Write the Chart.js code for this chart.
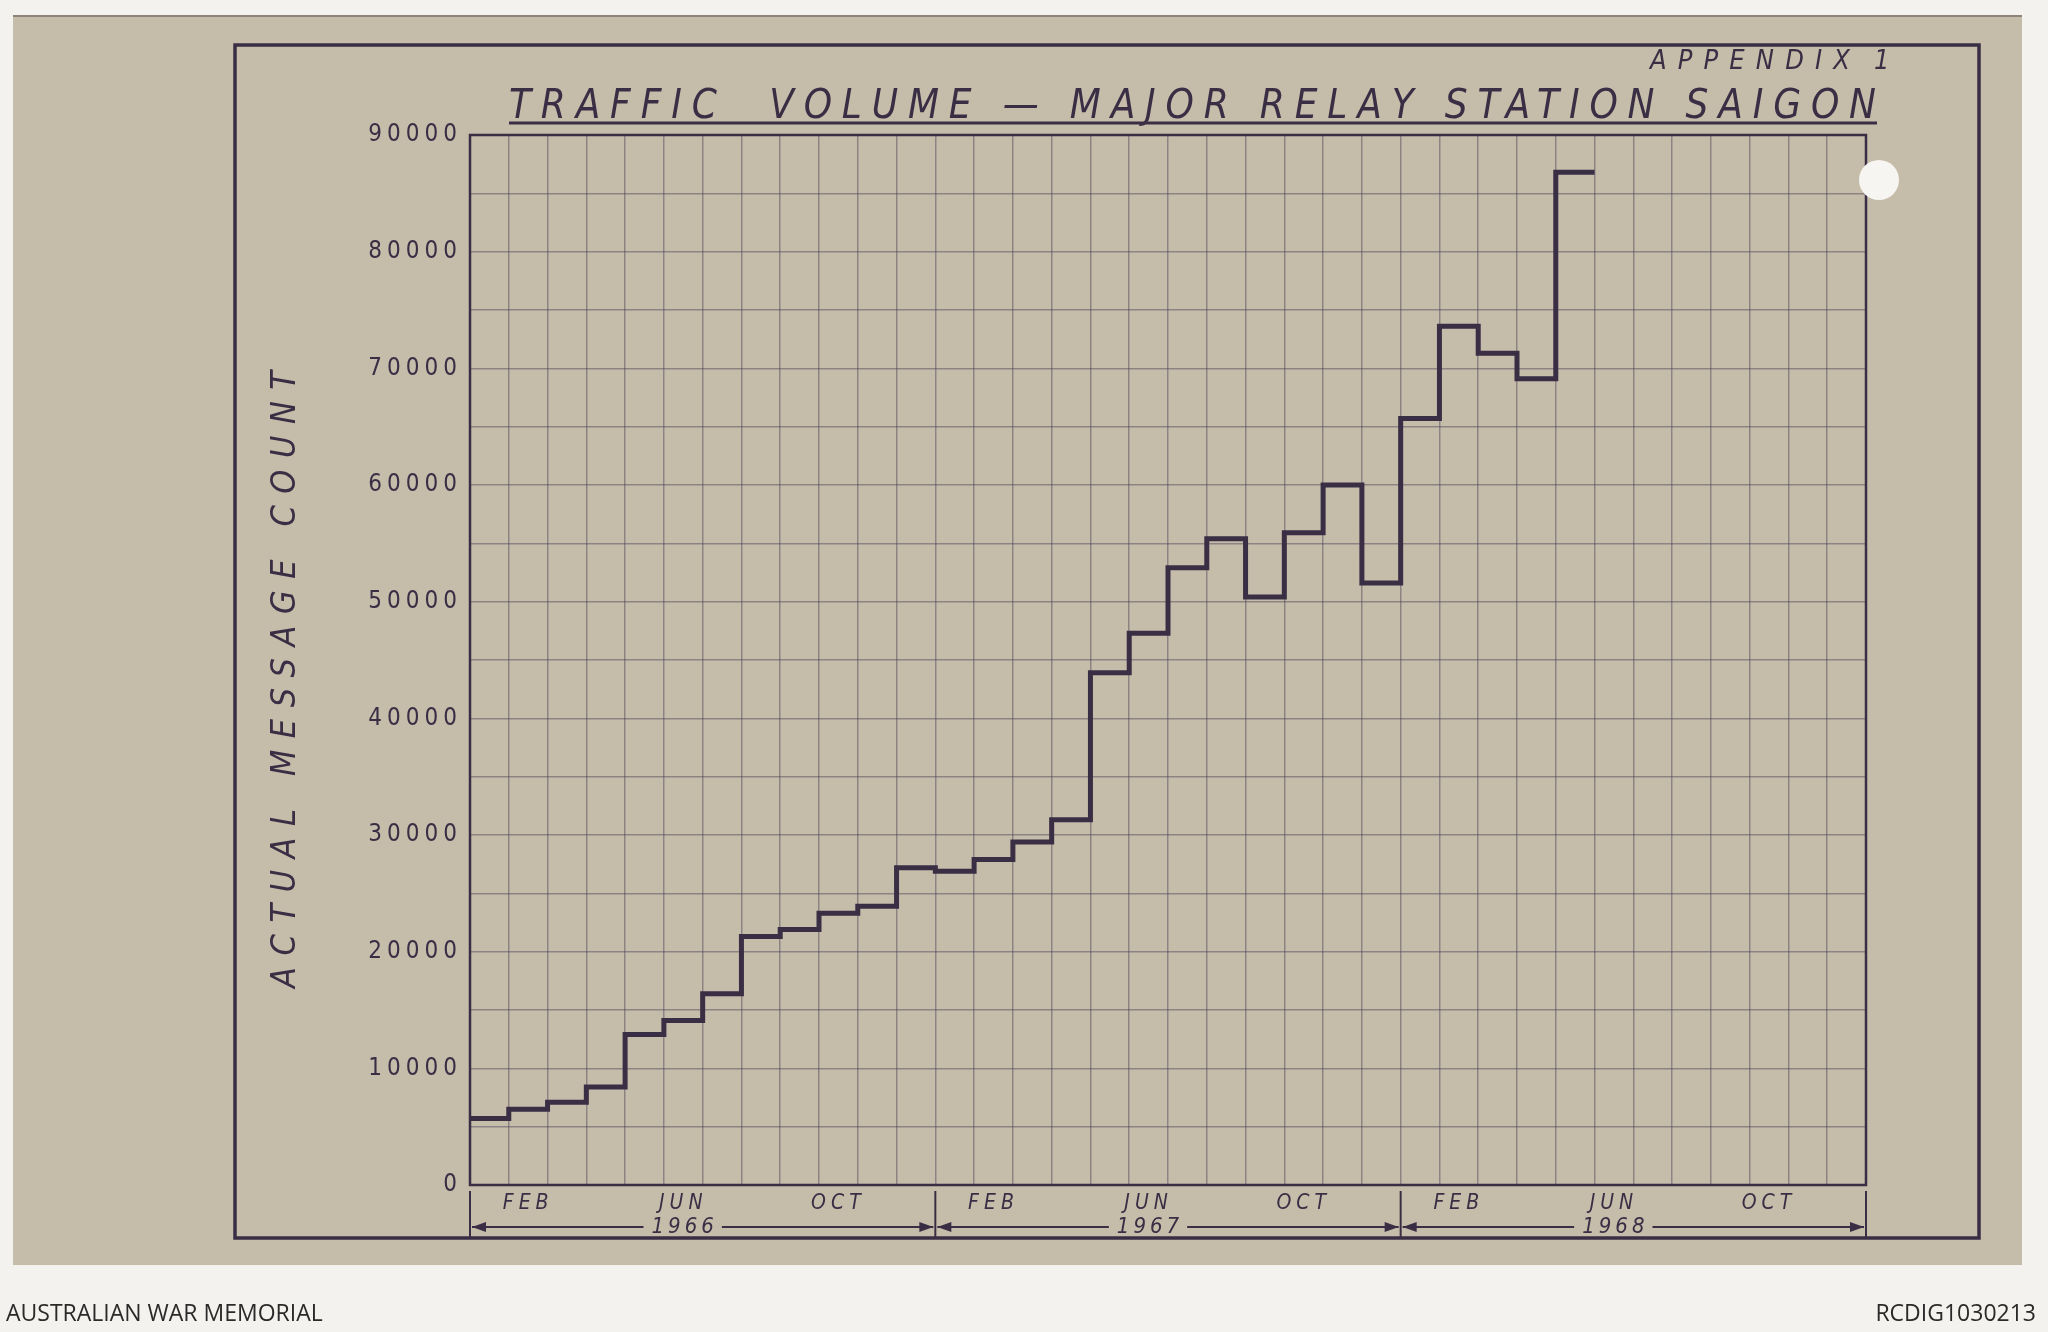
<!DOCTYPE html>
<html>
<head>
<meta charset="utf-8">
<title>Traffic Volume - Major Relay Station Saigon</title>
<script src="https://cdn.jsdelivr.net/npm/chart.js@4.4.1/dist/chart.umd.min.js"></script>
<style>
  html, body { margin: 0; padding: 0; background: #f3f2ee; }
  body { width: 2048px; height: 1332px; position: relative; overflow: hidden; font-family: "Open Sans", "Noto Sans", sans-serif; }
  #paper { position: absolute; left: 13px; top: 15px; width: 2009px; height: 1248px; background: #c6bcaa; border-top: 2px solid #8e857a; }
  #graficaTrafico { position: absolute; left: 0; top: 0; }
  .caption { position: absolute; top: 1296px; font-size: 23px; color: #2a2a2a; }
</style>
</head>
<body>
<div id="paper"></div>
<canvas id="graficaTrafico" width="2048" height="1332"></canvas>
<div class="caption" style="left:6px">AUSTRALIAN WAR MEMORIAL</div>
<div class="caption" style="right:12px">RCDIG1030213</div>
<script>
// monthly message counts, Jan 1966 - May 1968
const monthNames = ['JAN', 'FEB', 'MAR', 'APR', 'MAY', 'JUN', 'JUL', 'AUG', 'SEP', 'OCT', 'NOV', 'DEC'];
const years = ['1966', '1967', '1968'];
const messageCount = [
    5700, 6500, 7100, 8400, 12900, 14100, 16400, 21300, 21900, 23300, 23900, 27200,
    26900, 27900, 29400, 31300, 43900, 47300, 52900, 55400, 50400, 55900, 60000, 51600,
    65700, 73600, 71300, 69100, 86800
];
const monthTicks = ['FEB', 'JUN', 'OCT'];
const yTickLabels = ['0', '10000', '20000', '30000', '40000', '50000', '60000', '70000', '80000', '90000'];

const ink = '#3a2e45';
const gridColor = 'rgba(72, 62, 84, 0.45)';
const hand = '"DejaVu Sans Condensed", "DejaVu Sans", sans-serif';

let months = years.flatMap(y => monthNames.map(m => m + ' ' + y));

// each month is drawn as a flat step across its own column
let stepPoints = messageCount.map((v, i) => ({ x: i, y: v }));
stepPoints.push({ x: messageCount.length, y: messageCount[messageCount.length - 1] });

function fitText(ctx, text, left, y, width) {
    ctx.letterSpacing = '0px';
    let w = ctx.measureText(text).width;
    let sp = (width - w) / (text.length - 1);
    ctx.letterSpacing = sp + 'px';
    ctx.textAlign = 'left';
    ctx.fillText(text, left, y);
    ctx.letterSpacing = '0px';
}

const sheet = {
    id: 'sheet',
    beforeDraw(chart) {
        chart.ctx.letterSpacing = '5px';
    },
    afterDraw(chart) {
        const ctx = chart.ctx;
        const a = chart.chartArea;
        const xs = chart.scales.x;
        ctx.save();
        ctx.letterSpacing = '0px';
        ctx.strokeStyle = ink;
        ctx.fillStyle = ink;

        // outer frame
        ctx.lineWidth = 3.5;
        ctx.strokeRect(235, 45, 1979 - 235, 1238 - 45);

        // plot border
        ctx.lineWidth = 2.5;
        ctx.strokeRect(a.left, a.top, a.right - a.left, a.bottom - a.top);

        // title
        ctx.font = 'italic 40px ' + hand;
        ctx.textBaseline = 'alphabetic';
        fitText(ctx, 'TRAFFIC  VOLUME — MAJOR RELAY STATION SAIGON', 509, 118, 1367);
        ctx.lineWidth = 3;
        ctx.beginPath();
        ctx.moveTo(509, 123);
        ctx.lineTo(1877, 123);
        ctx.stroke();

        ctx.font = 'italic 27px ' + hand;
        fitText(ctx, 'APPENDIX', 1650, 69, 200);
        ctx.fillText('1', 1874, 69);

        // y axis title
        ctx.save();
        ctx.translate(295, 680);
        ctx.rotate(-Math.PI / 2);
        ctx.font = 'italic 34px ' + hand;
        fitText(ctx, 'ACTUAL MESSAGE COUNT', -308, 0, 617);
        ctx.restore();

        // year spans with arrows
        ctx.lineWidth = 2;
        for (let k = 0; k <= years.length; k++) {
            let x = xs.getPixelForValue(12 * k);
            ctx.beginPath();
            ctx.moveTo(x, 1191);
            ctx.lineTo(x, 1238);
            ctx.stroke();
        }
        ctx.font = 'italic 22px ' + hand;
        ctx.textBaseline = 'middle';
        const ay = 1227;
        years.forEach((yr, k) => {
            let x0 = xs.getPixelForValue(12 * k);
            let x1 = xs.getPixelForValue(12 * k + 12);
            let mid = (x0 + x1) / 2 - 20;
            ctx.letterSpacing = '4px';
            let w = ctx.measureText(yr).width;
            ctx.textAlign = 'center';
            ctx.fillText(yr, mid + 2, ay);
            ctx.letterSpacing = '0px';
            ctx.beginPath();
            ctx.moveTo(x0 + 2, ay);
            ctx.lineTo(mid - w / 2 - 6, ay);
            ctx.moveTo(mid + w / 2 + 6, ay);
            ctx.lineTo(x1 - 2, ay);
            ctx.stroke();
            ctx.beginPath();
            ctx.moveTo(x0 + 2, ay);
            ctx.lineTo(x0 + 16, ay - 5);
            ctx.lineTo(x0 + 16, ay + 5);
            ctx.closePath();
            ctx.moveTo(x1 - 2, ay);
            ctx.lineTo(x1 - 16, ay - 5);
            ctx.lineTo(x1 - 16, ay + 5);
            ctx.closePath();
            ctx.fill();
        });

        // punched hole
        ctx.fillStyle = '#f6f5f1';
        ctx.beginPath();
        ctx.arc(1879, 180, 20, 0, Math.PI * 2);
        ctx.fill();
        ctx.restore();
    }
};

let ctx = document.getElementById('graficaTrafico').getContext('2d');
new Chart(ctx, {
    type: 'line',
    data: {
        datasets: [{
            label: 'Actual message count',
            data: stepPoints,
            stepped: 'before',
            borderColor: ink,
            borderWidth: 5,
            pointRadius: 0,
            fill: false,
            xAxisID: 'x',
            yAxisID: 'y'
        }]
    },
    options: {
        responsive: false,
        animation: false,
        devicePixelRatio: 1,
        layout: { padding: { top: 135, right: 182, left: 0, bottom: 0 } },
        plugins: {
            legend: { display: false },
            tooltip: { enabled: false }
        },
        scales: {
            x: {
                type: 'linear',
                position: 'bottom',
                weight: 0,
                min: 0,
                max: 36,
                ticks: { stepSize: 1, display: false },
                grid: { color: gridColor, lineWidth: 1.5, drawTicks: false },
                border: { display: false },
                afterFit: s => { s.height = 0; }
            },
            xm: {
                type: 'category',
                labels: months,
                position: 'bottom',
                weight: 1,
                offset: true,
                grid: { display: false, drawTicks: false },
                border: { display: false },
                ticks: {
                    autoSkip: false,
                    maxRotation: 0,
                    padding: 6,
                    color: ink,
                    font: { family: hand, size: 21, style: 'italic' },
                    callback: function (val) {
                        let m = this.getLabelForValue(val).split(' ')[0];
                        return monthTicks.includes(m) ? m : '';
                    }
                },
                afterFit: s => { s.height = 147; }
            },
            y: {
                min: 0,
                max: 90000,
                ticks: {
                    stepSize: 5000,
                    padding: 8,
                    color: ink,
                    font: { family: hand, size: 24 },
                    callback: v => v % 10000 === 0 ? yTickLabels[v / 10000] : ''
                },
                grid: { color: gridColor, lineWidth: 1.5, drawTicks: false },
                border: { display: false },
                afterFit: s => { s.width = 470; }
            }
        }
    },
    plugins: [sheet]
});
</script>
</body>
</html>
